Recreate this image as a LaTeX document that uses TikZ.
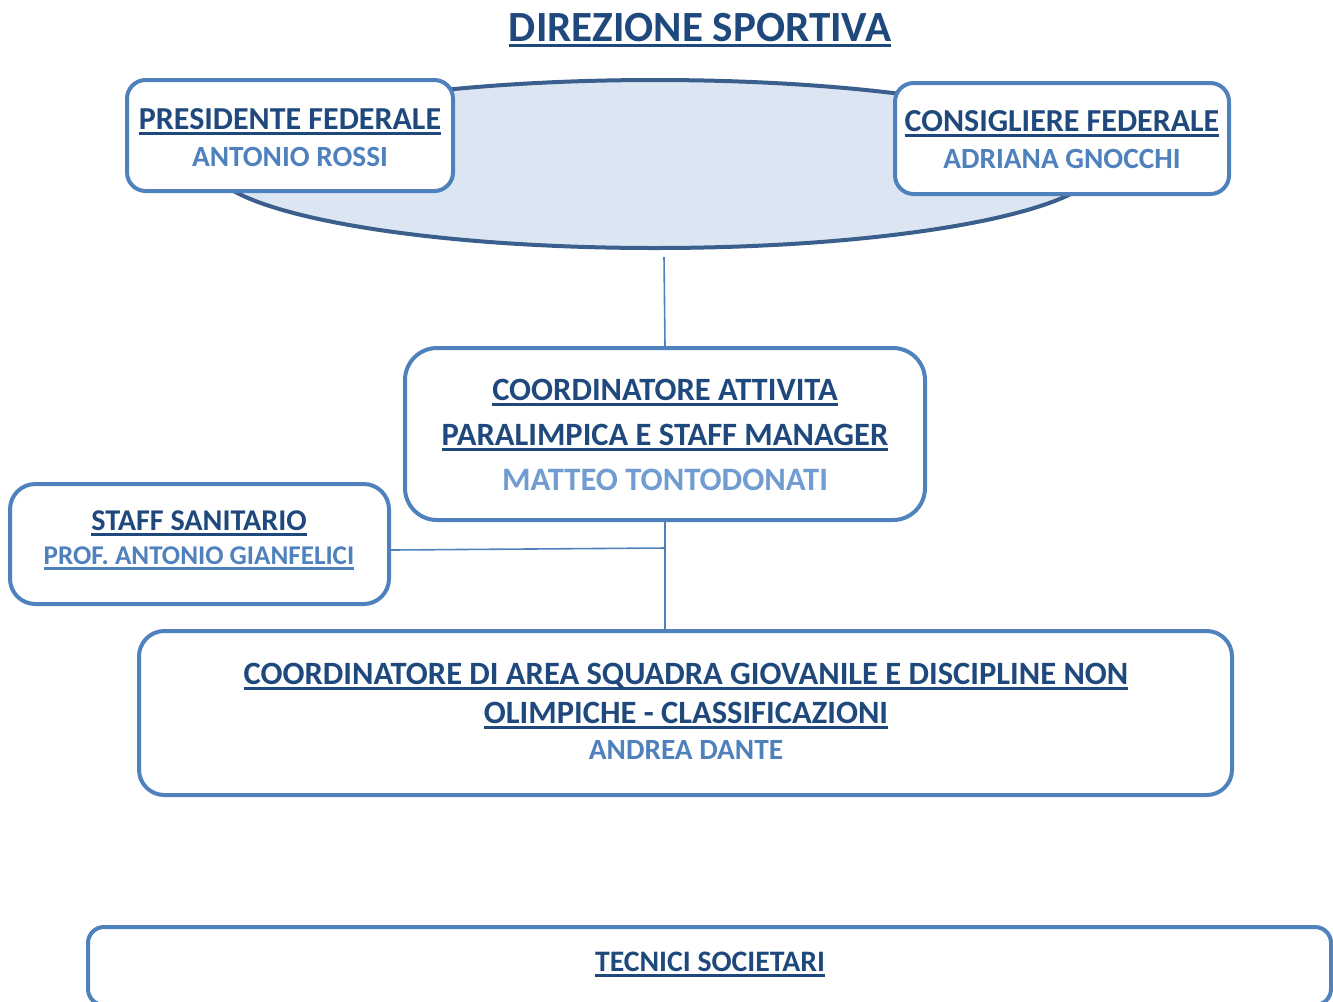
\documentclass[tikz,border=0pt]{standalone}
\usepackage{fontspec}
\setmainfont{Carlito}
\newcommand\myul[1]{\setbox0\hbox{#1}\rlap{\vrule height -2.6pt depth 4.4pt width \wd0}\box0}
\definecolor{dkblue}{HTML}{1F497D}
\definecolor{mdblue}{HTML}{4F81BD}
\definecolor{ltblue}{HTML}{709CD2}
\definecolor{ellfill}{HTML}{DCE6F2}
\definecolor{elldraw}{HTML}{3A5F8C}
\tikzset{
  orgbox/.style={draw=mdblue, line width=3pt, fill=white, inner sep=0pt},
  hdtxt/.style={anchor=base, text=dkblue, font=\bfseries\fontsize{24}{28}\selectfont, inner sep=0pt},
  bighdtxt/.style={anchor=base, text=dkblue, font=\bfseries\fontsize{24.4}{28}\selectfont, inner sep=0pt},
  persontxt/.style={anchor=base, text=mdblue, font=\bfseries\fontsize{22}{26}\selectfont, inner sep=0pt},
  conn/.style={draw=mdblue, line width=1.2pt}
}
\begin{document}
\begin{tikzpicture}[x=0.75pt,y=-0.75pt]
\useasboundingbox (0,0) rectangle (1333,1001);
% title
\node[anchor=base, text=dkblue, font=\bfseries\fontsize{32.3}{36}\selectfont, inner sep=0pt] (title) at (700,41) {\myul{DIREZIONE SPORTIVA}};
% ellipse
\draw[draw=elldraw, fill=ellfill, line width=3pt] (655,164) ellipse [x radius=445, y radius=84];
\coordinate (ellb) at (664,257);
% presidente
\draw[orgbox, rounded corners=14pt] (127,80) rectangle (453,191);
\node[hdtxt] (pres) at (290,129) {\myul{PRESIDENTE FEDERALE}};
\node[persontxt] (presn) at (290,166) {ANTONIO ROSSI};
% consigliere
\draw[orgbox, rounded corners=14pt] (895,83) rectangle (1229,194);
\node[hdtxt] (cons) at (1062,131) {\myul{CONSIGLIERE FEDERALE}};
\node[persontxt] (consn) at (1062,168) {ADRIANA GNOCCHI};
% coordinatore attivita
\node[orgbox, rounded corners=24pt, minimum width=520*0.75pt, minimum height=172*0.75pt] (coord) at (665,434) {};
\node[bighdtxt] (c1) at (665,400) {\myul{COORDINATORE ATTIVITA}};
\node[bighdtxt] (c2) at (665,445) {\myul{PARALIMPICA E STAFF MANAGER}};
\node[anchor=base, text=ltblue, font=\bfseries\fontsize{24.5}{28}\selectfont, inner sep=0pt] (c3) at (665,490) {MATTEO TONTODONATI};
% staff sanitario
\node[orgbox, rounded corners=19pt, minimum width=379*0.75pt, minimum height=120*0.75pt] (staff) at (199.5,544) {};
\node[anchor=base, text=dkblue, font=\bfseries\fontsize{22.6}{26}\selectfont, inner sep=0pt] (s1) at (199,530) {\myul{STAFF SANITARIO}};
\node[anchor=base, text=mdblue, font=\bfseries\fontsize{20.3}{24}\selectfont, inner sep=0pt] (s2) at (199,564) {\myul{PROF. ANTONIO GIANFELICI}};
% coordinatore area
\node[orgbox, rounded corners=19pt, minimum width=1093*0.75pt, minimum height=164*0.75pt] (area) at (685.5,713) {};
\node[bighdtxt] (a1) at (686,684) {\myul{COORDINATORE DI AREA SQUADRA GIOVANILE E DISCIPLINE NON}};
\node[bighdtxt] (a2) at (686,723) {\myul{OLIMPICHE - CLASSIFICAZIONI}};
\node[persontxt] (a3) at (686,759) {ANDREA DANTE};
% tecnici
\begin{scope}
\clip (0,0) rectangle (1333,1001);
\draw[orgbox, rounded corners=12pt] (88,927) rectangle (1331,1005);
\end{scope}
\coordinate (tec) at (710,964);
\node[anchor=base, text=dkblue, font=\bfseries\fontsize{22.3}{26}\selectfont, inner sep=0pt] (t1) at (710,971) {\myul{TECNICI SOCIETARI}};
% connectors
\draw[conn] (ellb) -- (coord.north);
\coordinate (j) at (666,548);
\draw[conn] (coord.south) -- (area.north -| coord.south);
\draw[conn] (staff.east |- 0,550) -- (j);
\end{tikzpicture}
\end{document}
